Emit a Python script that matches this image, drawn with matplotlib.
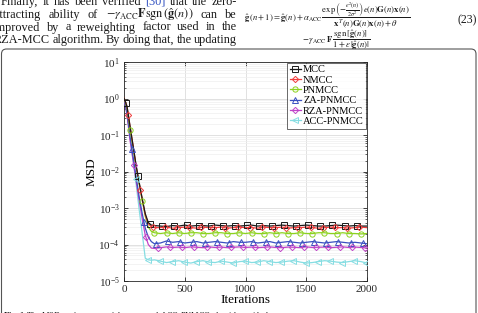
import numpy as np
import matplotlib
matplotlib.use("Agg")
import matplotlib.pyplot as plt
from matplotlib.lines import Line2D
from matplotlib.patches import FancyBboxPatch

# ---------------- data ----------------
iters_transient = [0, 25, 50, 75, 100, 125, 150, 175, 200, 225]
iters_steady = list(range(250, 2001, 50))

labels = ["MCC", "NMCC", "PNMCC", "ZA-PNMCC", "RZA-PNMCC", "ACC-PNMCC"]

mcc_tr = [1.05, 0.6, 0.17, 0.05, 0.0145, 0.005, 0.0018, 0.0007, 0.0004, 0.00034]
nmcc_tr = [1.05, 0.6, 0.17, 0.05, 0.014, 0.0048, 0.0017, 0.00065, 0.00037, 0.00031]
pnmcc_tr = [1.05, 0.55, 0.14, 0.045, 0.013, 0.0045, 0.0016, 0.0006, 0.0003, 0.00023]
za_tr = [1.05, 0.4, 0.09, 0.025, 0.007, 0.002, 0.0007, 0.00028, 0.00016, 0.00012]
rza_tr = [1.05, 0.35, 0.07, 0.02, 0.0055, 0.0016, 0.0005, 0.00018, 0.0001, 0.00008]
acc_tr = [1.05, 0.4, 0.09, 0.02, 0.0045, 0.0009, 0.0002, 0.000042, 0.000038, 0.000037]

mcc_ss = [3.3, 3.2, 3.1, 3.3, 3.2, 3.4, 3.2, 3.3, 3.3, 3.2, 3.4, 3.3, 3.2, 3.3, 3.2, 3.3, 3.4, 3.2,
          3.3, 3.2, 3.3, 3.4, 3.3, 3.2, 3.3, 3.4, 3.3, 3.2, 3.2, 3.3, 3.4, 3.3, 3.2, 3.3, 3.2, 3.2]
nmcc_ss = [2.9, 2.9, 3.0, 2.8, 2.9, 3.0, 2.9, 2.8, 3.0, 2.9, 2.9, 3.0, 2.8, 2.9, 3.0, 2.9, 2.9, 2.8,
           3.0, 2.9, 2.9, 3.0, 2.8, 2.9, 2.9, 3.0, 2.9, 2.8, 2.9, 3.0, 2.9, 2.9, 2.8, 2.9, 3.0, 2.9]
pnmcc_ss = [2.1, 2.0, 2.1, 2.0, 2.1, 2.0, 2.1, 2.1, 2.0, 2.0, 2.1, 2.1, 2.0, 2.0, 2.1, 2.0, 2.1, 2.0,
            2.0, 2.1, 2.0, 2.1, 2.0, 2.0, 2.1, 2.0, 2.0, 2.1, 2.1, 2.0, 2.0, 2.1, 2.0, 2.0, 1.95, 2.0]
za_ss = [1.05, 1.1, 1.25, 1.15, 1.2, 1.1, 1.15, 1.2, 1.1, 1.15, 1.2, 1.15, 1.1, 1.2, 1.15, 1.15, 1.2, 1.1,
         1.15, 1.2, 1.1, 1.15, 1.2, 1.15, 1.1, 1.15, 1.2, 1.15, 1.1, 1.15, 1.2, 1.15, 1.1, 1.15, 1.1, 1.05]
rza_ss = [7.8, 8.2, 8.6, 8.3, 8.5, 8.2, 8.6, 8.4, 8.2, 8.6, 8.3, 8.5, 8.2, 8.4, 8.6, 8.3, 8.5, 8.2,
          8.4, 8.6, 8.3, 8.2, 8.5, 8.4, 8.2, 8.6, 8.3, 8.4, 8.5, 8.2, 8.4, 8.6, 8.3, 8.5, 8.3, 8.0]
acc_ss = [3.8, 3.5, 3.2, 3.4, 3.6, 3.3, 3.1, 3.4, 3.6, 3.3, 3.2, 3.5, 3.3, 3.1, 3.4, 3.5, 3.2, 3.3,
          3.6, 3.4, 3.2, 3.3, 3.5, 3.6, 3.3, 3.1, 3.2, 3.4, 3.6, 3.5, 3.3, 3.2, 3.4, 3.6, 3.4, 3.1]
ss_scale = [1e-4, 1e-4, 1e-4, 1e-4, 1e-5, 1e-5]

xticks = [0, 500, 1000, 1500, 2000]

# ---------------- style ----------------
colors = ["#1a1a1a", "#f03c3c", "#8cd21e", "#3a50c0", "#c044c8", "#86dde2"]
markers = ["s", "D", "o", "^", "D", "<"]
msizes = [3.8, 3.2, 3.8, 4.0, 3.2, 3.8]
moffsets = [15, 35, 50, 65, 80, 95]

plt.rcParams["font.family"] = ["Liberation Serif", "DejaVu Serif"]
plt.rcParams["mathtext.fontset"] = "stix"

W, H = 478, 313
fig = plt.figure(figsize=(W / 100, H / 100), dpi=100)
fig.patch.set_facecolor("white")


def fx(px):
    return px / W


def fy(py):
    return 1 - py / H


ax = fig.add_axes([fx(124), fy(281), (367 - 124) / W, (281 - 62) / H])

x = np.array(iters_transient + iters_steady, dtype=float)
trs = [mcc_tr, nmcc_tr, pnmcc_tr, za_tr, rza_tr, acc_tr]
sss = [mcc_ss, nmcc_ss, pnmcc_ss, za_ss, rza_ss, acc_ss]
handles = []
for i in range(6):
    y = np.array(trs[i] + [v * ss_scale[i] for v in sss[i]])
    ax.plot(x, y, color=colors[i], lw=0.9, zorder=3 + (5 - i) * 0.1)
    mx = np.arange(moffsets[i], 2001, 100)
    my = 10 ** np.interp(mx, x, np.log10(y))
    ax.plot(mx, my, ls="none", marker=markers[i], ms=msizes[i], mfc="none",
            mec=colors[i], mew=0.7, zorder=4)
    handles.append(Line2D([0], [0], color=colors[i], lw=0.9, marker=markers[i],
                          ms=msizes[i], mfc="none", mec=colors[i], mew=0.7))

ax.set_yscale("log")
ax.set_xlim(0, 2000)
ax.set_ylim(1e-5, 1e1)
ax.set_xticks(xticks)
ax.set_xticklabels([str(t) for t in xticks])
ax.tick_params(which="both", direction="in", top=True, right=True,
               labelsize=8, colors="#262626", pad=3)
ax.tick_params(which="major", length=3, width=0.6)
ax.tick_params(which="minor", length=1.6, width=0.5)
ax.grid(True, which="major", color="#dcdcdc", lw=0.6)
ax.grid(True, which="minor", axis="y", color="#efefef", lw=0.5)
for s in ax.spines.values():
    s.set_color("#262626")
    s.set_linewidth(0.6)
ax.set_xlabel("Iterations", fontsize=9.5, labelpad=0)
ax.set_ylabel("MSD", fontsize=9.5)
ax.yaxis.set_label_coords(-0.108, 0.5)

leg = ax.legend(handles, labels, loc="upper right", fontsize=7.5, frameon=True,
                fancybox=False, edgecolor="#262626", borderpad=0.25,
                labelspacing=0.1, handlelength=1.1, handletextpad=0.2,
                borderaxespad=0.05)
leg.get_frame().set_linewidth(0.6)

# ---------------- surrounding page text ----------------
renderer = fig.canvas.get_renderer()


def justify(words, x0, x1, ypx, fs, wcolors=None):
    ts = []
    for k, w in enumerate(words):
        c = wcolors[k] if wcolors else "#1a1a1a"
        ts.append(fig.text(0, fy(ypx), w, fontsize=fs, color=c, va="center", ha="left"))
    widths = [t.get_window_extent(renderer).width for t in ts]
    gap = ((x1 - x0) - sum(widths)) / max(len(words) - 1, 1)
    pos = x0
    for t, wd in zip(ts, widths):
        t.set_x(fx(pos))
        pos += wd + gap


fs_body = 8.8
justify(["Finally,", "it", "has", "been", "verified", "[30]", "that", "the", "zero-"], 1, 237, 2, fs_body,
        ["#1a1a1a"] * 5 + ["#3050c0"] + ["#1a1a1a"] * 3)
justify(["attracting", "ability", "of",
         r"$-\gamma_{\mathrm{ACC}}\mathbf{F}\mathrm{sgn}\,(\hat{\mathbf{g}}(n))$", "can", "be"],
        -5, 237, 15, fs_body)
justify(["improved", "by", "a", "reweighting", "factor", "used", "in", "the"], -7, 237, 27.5, fs_body)
justify(["RZA-MCC", "algorithm.", "By", "doing", "that,", "the", "updating"], -6, 237, 40, fs_body)

fig.text(fx(244), fy(15), r"$\hat{\mathbf{g}}\,(n+1) = \hat{\mathbf{g}}(n) + \alpha_{\mathrm{ACC}}\,"
         r"\dfrac{\exp\left(-\frac{e^2(n)}{2\sigma^2}\right)e(n)\mathbf{G}(n)\mathbf{x}(n)}"
         r"{\mathbf{x}^T(n)\mathbf{G}(n)\mathbf{x}(n)+\theta}$",
         fontsize=6.2, va="center", ha="left", color="#1a1a1a")
fig.text(fx(302), fy(40), r"$-\,\gamma_{\mathrm{ACC}}\,\mathbf{F}\,"
         r"\dfrac{\mathrm{sgn}\,[\hat{\mathbf{g}}(n)]}{1+\varepsilon\,|\hat{\mathbf{g}}(n)|}$",
         fontsize=6.2, va="center", ha="left", color="#1a1a1a")
fig.text(fx(477), fy(20), "(23)", fontsize=8.5, va="center", ha="right", color="#1a1a1a")

# figure frame and caption
box = FancyBboxPatch((0.015, -0.1), 4.745, (313 - 49) / 100 + 0.1,
                     boxstyle="round,pad=0,rounding_size=0.05",
                     transform=fig.dpi_scale_trans, fill=False,
                     edgecolor="#555555", lw=0.8)
fig.patches.append(box)
fig.text(fx(3), fy(310.5), r"$\mathbf{Fig.\ 1}$ The MSD performance of the proposed ACC-PNMCC algorithm with the",
         fontsize=6.0, va="top", ha="left", color="#1a1a1a")

fig.savefig("out.png", dpi=100, facecolor="white")
